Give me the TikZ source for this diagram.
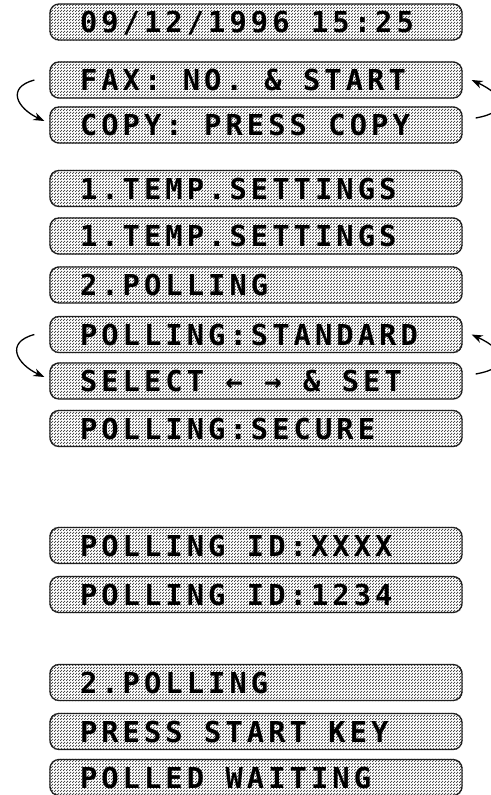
\documentclass[tikz,border=0pt]{standalone}
\usepackage{fontspec}
\usetikzlibrary{arrows.meta,calc,backgrounds,patterns}
\newfontfamily\lcdfont[LetterSpace=14]{DejaVu Sans Mono}
\definecolor{lcdline}{rgb}{0.12,0.12,0.12}
\pgfdeclarepatternformonly{halftone}{\pgfpointorigin}{\pgfqpoint{3pt}{3pt}}{\pgfqpoint{3pt}{3pt}}{%
  \pgfpathrectangle{\pgfpointorigin}{\pgfqpoint{1.4pt}{1.4pt}}%
  \pgfpathrectangle{\pgfqpoint{1.5pt}{1.5pt}}{\pgfqpoint{1.4pt}{1.4pt}}%
  \pgfusepath{fill}}
\newcommand\lsp{\hspace*{21.4pt}}
\begin{document}
\begin{tikzpicture}[x=1pt,y=1pt,
  lcdbox/.style={draw=lcdline, line width=1.3pt, rounded corners=9pt,
    minimum width=412pt, minimum height=36pt, inner xsep=30pt, inner ysep=0pt,
    text width=352pt, align=left, text height=21pt, text depth=0pt,
    font=\lcdfont\bfseries\fontsize{28.8}{30}\selectfont},
  halfbg/.style={pattern=halftone, pattern color=black!70, rounded corners=9pt},
  cyc/.style={line width=1.3pt, -{Stealth[length=11pt,width=8pt]}}]
\useasboundingbox (0,0) rectangle (490,-795);
\node[lcdbox] (d)   at (256,-22)    {09/12/1996\lsp 15:25};
\node[lcdbox] (fax) at (256,-80)    {FAX:\lsp NO.\lsp\&\lsp START};
\node[lcdbox] (cpy) at (256,-125)   {COPY:\lsp PRESS\lsp COPY};
\node[lcdbox] (t1)  at (256,-188.5) {1.TEMP.SETTINGS};
\node[lcdbox] (t2)  at (256,-236)   {1.TEMP.SETTINGS};
\node[lcdbox] (p1)  at (256,-285)   {2.POLLING};
\node[lcdbox] (std) at (256,-334.5) {POLLING:STANDARD};
\node[lcdbox] (sel) at (256,-381)   {SELECT\lsp ←\lsp →\lsp\&\lsp SET};
\node[lcdbox] (sec) at (256,-428.5) {POLLING:SECURE};
\node[lcdbox] (idx) at (256,-545.5) {POLLING\lsp ID:XXXX};
\node[lcdbox] (idn) at (256,-594.5) {POLLING\lsp ID:1234};
\node[lcdbox] (p2)  at (256,-682.5) {2.POLLING};
\node[lcdbox] (prs) at (256,-731.5) {PRESS\lsp START\lsp KEY};
\node[lcdbox] (pw)  at (256,-777.5) {POLLED\lsp WAITING};
\begin{scope}[on background layer]
\foreach \n in {d,fax,cpy,t1,t2,p1,std,sel,sec,idx,idn,p2,prs,pw}
  \fill[halfbg] (\n.south west) rectangle (\n.north east);
\end{scope}
% cycle arrows
\draw[cyc] ($(fax.west)+(-15,0)$) to[out=195,in=155,looseness=1.8] ($(cpy.west)+(-5,4)$);
\draw[cyc] ($(cpy.east)+(13,7)$) to[out=10,in=-25,looseness=2.4] ($(fax.east)+(9,0)$);
\draw[cyc] ($(std.west)+(-15,0)$) to[out=195,in=155,looseness=1.8] ($(sel.west)+(-5,4)$);
\draw[cyc] ($(sel.east)+(13,7)$) to[out=10,in=-25,looseness=2.4] ($(std.east)+(9,0)$);
\end{tikzpicture}
\end{document}
